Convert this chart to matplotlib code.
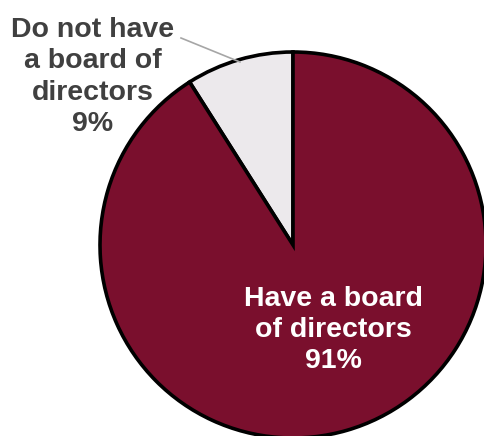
import matplotlib
matplotlib.use("Agg")
import matplotlib.pyplot as plt

labels = ["Do not have\na board of\ndirectors", "Have a board\nof directors"]
values = [9, 91]
colors = ["#ECE9EC", "#7A0F2D"]

fig = plt.figure(figsize=(4.85, 4.36), dpi=100)
ax = fig.add_axes([0, 0, 1, 1])

cx, cy, r = 293, 436 - 245, 193
ax.pie(values, colors=colors, startangle=90, counterclock=True,
       center=(cx, cy), radius=r, frame=True,
       wedgeprops=dict(edgecolor="black", linewidth=2.6))
ax.set_xlim(0, 485)
ax.set_ylim(0, 436)
ax.set_aspect("equal")
ax.axis("off")

font = dict(family=["Liberation Sans", "DejaVu Sans"], fontweight="bold", fontsize=20.5)
ax.text(93, 436 - 77, f"{labels[0]}\n{values[0]}%", ha="center", va="center",
        color="#404040", linespacing=1.27, **font)
ax.text(333, 436 - 330, f"{labels[1]}\n{values[1]}%", ha="center", va="center",
        color="white", linespacing=1.27, **font)
ax.plot([181, 240], [436 - 38, 436 - 62], color="#A6A6A6", linewidth=1.2)

fig.savefig("out.png", dpi=100)
